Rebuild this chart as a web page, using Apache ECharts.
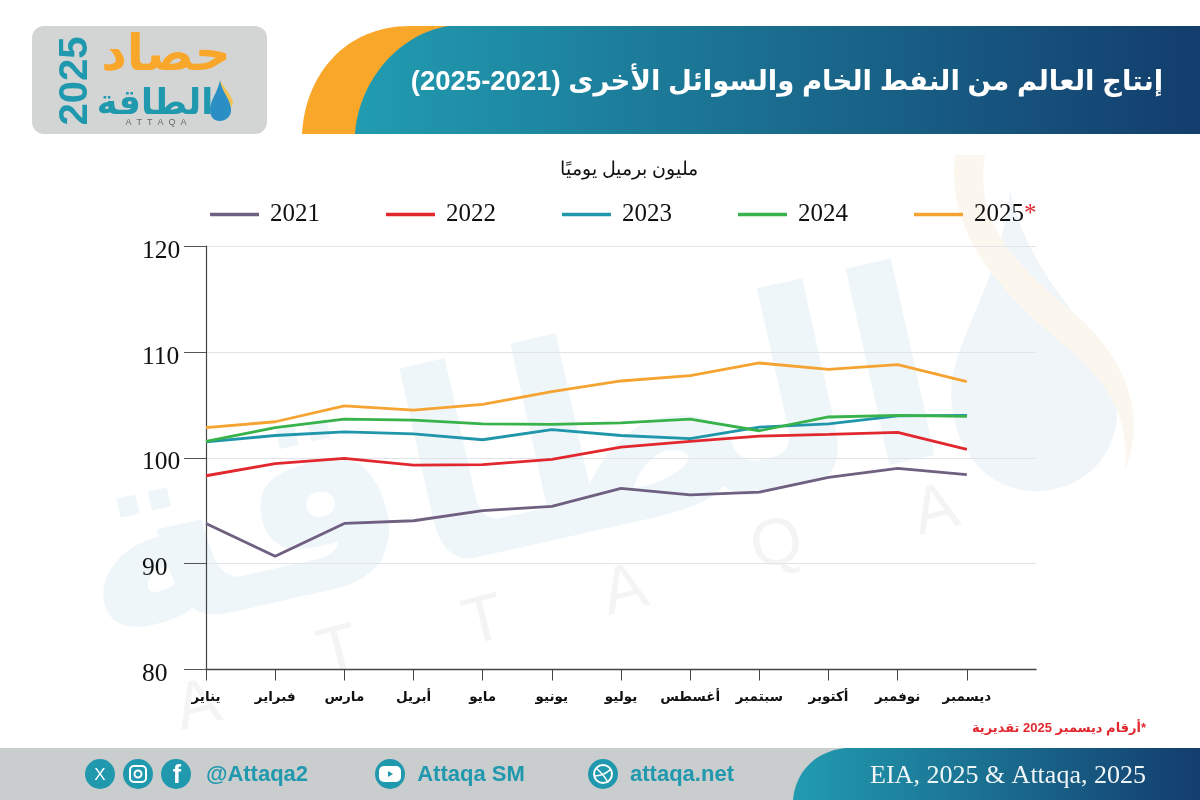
<!DOCTYPE html>
<html lang="ar" dir="rtl">
<head>
<meta charset="utf-8">
<title>إنتاج العالم من النفط الخام والسوائل الأخرى</title>
<script src="https://cdn.jsdelivr.net/npm/echarts@6/dist/echarts.min.js"></script>
<style>
  html, body { margin: 0; padding: 0; background: #fff; }
  #chart { width: 1200px; height: 800px; }
</style>
</head>
<body>
<div id="chart"></div>
<script>
// البيانات
const months = ['يناير', 'فبراير', 'مارس', 'أبريل', 'مايو', 'يونيو', 'يوليو', 'أغسطس', 'سبتمبر', 'أكتوبر', 'نوفمبر', 'ديسمبر'];
const yearNames = ['2021', '2022', '2023', '2024', '2025*'];
const yearColors = ['#6f5f80', '#e2282f', '#2096ab', '#38b24a', '#f5a331'];
const values2021 = [93.8, 90.7, 93.8, 94.05, 95.0, 95.4, 97.1, 96.5, 96.75, 98.15, 99.0, 98.4];
const values2022 = [98.3, 99.45, 99.95, 99.3, 99.35, 99.85, 101.0, 101.55, 102.05, 102.2, 102.4, 100.8];
const values2023 = [101.5, 102.1, 102.45, 102.25, 101.7, 102.65, 102.1, 101.8, 102.9, 103.2, 103.95, 104.0];
const values2024 = [101.55, 102.85, 103.65, 103.55, 103.2, 103.15, 103.3, 103.65, 102.55, 103.85, 104.0, 103.9];
const values2025 = [102.85, 103.4, 104.9, 104.5, 105.05, 106.25, 107.25, 107.75, 108.95, 108.35, 108.8, 107.2];
const yearValues = [values2021, values2022, values2023, values2024, values2025];
const yTicks = { min: 80, max: 120, step: 10 };

const serif = '"Liberation Serif", "DejaVu Serif", serif';
const sans = '"Liberation Sans", "DejaVu Sans", sans-serif';
const teal = '#2098ae';

const bandGradient = {
  type: 'linear', x: 0, y: 0, x2: 1, y2: 0,
  colorStops: [{ offset: 0, color: '#219cb0' }, { offset: 1, color: '#133d6d' }]
};

function label(text, x, y, size, color, extra) {
  return {
    type: 'text', z: 20, x: x, y: y,
    style: Object.assign({ text: text, fontSize: size, fill: color, fontFamily: sans, align: 'center', verticalAlign: 'middle' }, extra || {})
  };
}

// graphic لا يقبل path مباشرة، لذلك نسجل كل مسار كشكل
let shapeCount = 0;
function shape(pathData, fill, z, stroke) {
  const name = 'decor' + shapeCount++;
  echarts.graphic.registerShape(name, echarts.graphic.extendPath(pathData, {}));
  const style = stroke ? { fill: 'none', stroke: stroke, lineWidth: 1.6 } : { fill: fill };
  return { type: name, z: z, style: style };
}

// العلامة المائية خلف الرسم
const watermark = [
  { type: 'text', z: -1, x: 510, y: 475, rotation: 0.22, style: { text: 'الطاقة', fontSize: 265, fontWeight: 'bold', fill: '#eff6f9', fontFamily: sans, align: 'center', verticalAlign: 'middle' } },
  shape('M1010 190 C1000 280 960 330 952 380 C945 440 985 500 1050 490 C1110 480 1130 420 1110 370 C1090 320 1030 280 1010 190 Z', '#f0f5f9', -1),
  shape('M955 155 C945 240 1010 300 1070 350 C1110 385 1130 420 1125 470 C1150 410 1120 350 1070 310 C1010 260 975 220 985 155 Z', '#fbf7ee', -1)
].concat([['A', 198, 707], ['T', 339, 653], ['T', 484, 623], ['A', 625, 592], ['Q', 777, 546], ['A', 936, 512]].map(function (p) {
  return { type: 'text', z: -1, x: p[1], y: p[2], rotation: 0.25, style: { text: p[0], fontSize: 66, fill: '#f4f4f4', fontFamily: sans, align: 'center', verticalAlign: 'middle' } };
}));

// الشعار
const logo = [
  { type: 'rect', z: 10, shape: { x: 32, y: 26, width: 235, height: 108, r: 12 }, style: { fill: '#d3d5d5' } },
  label('حصاد', 166, 56, 50, '#f9a72b', { fontWeight: 'bold' }),
  label('الطاقة', 155, 104, 35, teal, { fontWeight: 'bold' }),
  { type: 'text', z: 20, x: 76, y: 81, rotation: Math.PI / 2, style: { text: '2025', fontSize: 40, fontWeight: 'bold', fill: teal, fontFamily: sans, align: 'center', verticalAlign: 'middle' } },
  label('A  T  T  A  Q  A', 156, 123, 9, '#666666'),
  shape('M220 80 C218 92 210 100 210 110 C210 118 215 121 220 121 C226 121 232 116 231 108 C230 98 222 92 220 80 Z', '#2b8fc4', 20),
  shape('M220 80 C222 92 230 98 231 108 L233 102 C231 94 224 88 220 80 Z', '#f2c14e', 21)
];

// الشريط العلوي
const header = [
  shape('M302 134 C305 75 345 26 410 26 L460 26 L460 134 Z', '#f9a72b', 10),
  shape('M355 134 C358 85 395 35 448 26 L1200 26 L1200 134 Z', bandGradient, 11),
  label('إنتاج العالم من النفط الخام والسوائل الأخرى (2021-2025)', 787, 82, 27.5, '#ffffff', { fontWeight: 'bold' })
];

// الشريط السفلي
const footerIcons = [
  { type: 'circle', z: 20, shape: { cx: 100, cy: 774, r: 15 }, style: { fill: teal } },
  label('X', 100, 775, 17, '#ffffff'),
  { type: 'circle', z: 20, shape: { cx: 138, cy: 774, r: 15 }, style: { fill: teal } },
  { type: 'rect', z: 21, shape: { x: 130, y: 766, width: 16, height: 16, r: 4 }, style: { fill: 'none', stroke: '#ffffff', lineWidth: 2 } },
  { type: 'circle', z: 21, shape: { cx: 138, cy: 774, r: 3.5 }, style: { fill: 'none', stroke: '#ffffff', lineWidth: 2 } },
  { type: 'circle', z: 20, shape: { cx: 176, cy: 774, r: 15 }, style: { fill: teal } },
  label('f', 177, 776, 25, '#ffffff', { fontWeight: 'bold' }),
  { type: 'circle', z: 20, shape: { cx: 390, cy: 774, r: 15 }, style: { fill: teal } },
  { type: 'rect', z: 21, shape: { x: 379, y: 766, width: 22, height: 16, r: 5 }, style: { fill: '#ffffff' } },
  shape('M388 771 L388 777 L393 774 Z', teal, 22),
  { type: 'circle', z: 20, shape: { cx: 603, cy: 774, r: 15 }, style: { fill: teal } },
  { type: 'circle', z: 21, shape: { cx: 603, cy: 774, r: 9 }, style: { fill: 'none', stroke: '#ffffff', lineWidth: 2 } },
  shape('M596 768 C603 774 606 778 608 783 M611 769 C606 774 600 776 594 776', 'none', 21, '#ffffff')
];
const footer = [
  { type: 'rect', z: 10, shape: { x: 0, y: 748, width: 1200, height: 52 }, style: { fill: '#cacdcd' } },
  shape('M793 800 C795 775 812 752 845 748 L1200 748 L1200 800 Z', bandGradient, 11),
  label('\u200e@Attaqa2', 257, 775, 22, teal, { fontWeight: 'bold' }),
  label('Attaqa SM', 471, 775, 22, teal, { fontWeight: 'bold' }),
  label('attaqa.net', 682, 775, 22, teal, { fontWeight: 'bold' }),
  label('EIA, 2025 & Attaqa, 2025', 1008, 776, 26, '#f0f6f7', { fontFamily: serif })
].concat(footerIcons);

// النصوص
const notes = [
  label('مليون برميل يوميًا', 629, 170, 19, '#111111', { fontFamily: serif }),
  label('*أرقام ديسمبر 2025 تقديرية', 1059, 728, 13, '#e2282f', { fontWeight: 'bold' })
];

const chart = echarts.init(document.getElementById('chart'), null, { renderer: 'canvas' });

const option = {
  animation: false,
  backgroundColor: '#ffffff',
  grid: { left: 206, top: 246, width: 830, height: 423.5, containLabel: false },
  legend: {
    left: 205, top: 197, itemWidth: 49, itemHeight: 3.5, itemGap: 66, icon: 'rect',
    data: yearNames,
    formatter: function (name) {
      return name.endsWith('*') ? '{y|' + name.slice(0, -1) + '}{s|*}' : '{y|' + name + '}';
    },
    textStyle: {
      rich: {
        y: { fontFamily: serif, fontSize: 25, color: '#111111', padding: [0, 0, 0, 6] },
        s: { fontFamily: serif, fontSize: 25, color: '#e2282f' }
      }
    }
  },
  xAxis: {
    type: 'category',
    boundaryGap: false,
    // فئة فارغة أخيرة حتى يمتد المحور بعد ديسمبر
    data: months.concat(['']),
    axisLine: { lineStyle: { color: '#444444', width: 1.4 } },
    axisTick: { length: 11, lineStyle: { color: '#444444' }, interval: function (i) { return i < months.length; } },
    axisLabel: { interval: 0, margin: 21, fontFamily: sans, fontSize: 13.5, fontWeight: 'bold', color: '#111111' },
    splitLine: { show: false }
  },
  yAxis: {
    type: 'value',
    min: yTicks.min,
    max: yTicks.max,
    interval: yTicks.step,
    axisLine: { show: true, lineStyle: { color: '#444444', width: 1.2 } },
    axisTick: { show: true, length: 22, lineStyle: { color: '#555555' } },
    axisLabel: { margin: 64, align: 'left', verticalAlign: 'top', lineHeight: 10, fontFamily: serif, fontSize: 25.5, color: '#111111' },
    splitLine: { lineStyle: { color: '#e2e4e7', width: 1 } }
  },
  series: yearNames.map(function (name, i) {
    return {
      name: name,
      type: 'line',
      data: yearValues[i],
      symbol: 'none',
      smooth: false,
      color: yearColors[i],
      lineStyle: { color: yearColors[i], width: 2.8 }
    };
  }),
  graphic: watermark.concat(logo, header, footer, notes)
};

option && chart.setOption(option);
</script>
</body>
</html>
